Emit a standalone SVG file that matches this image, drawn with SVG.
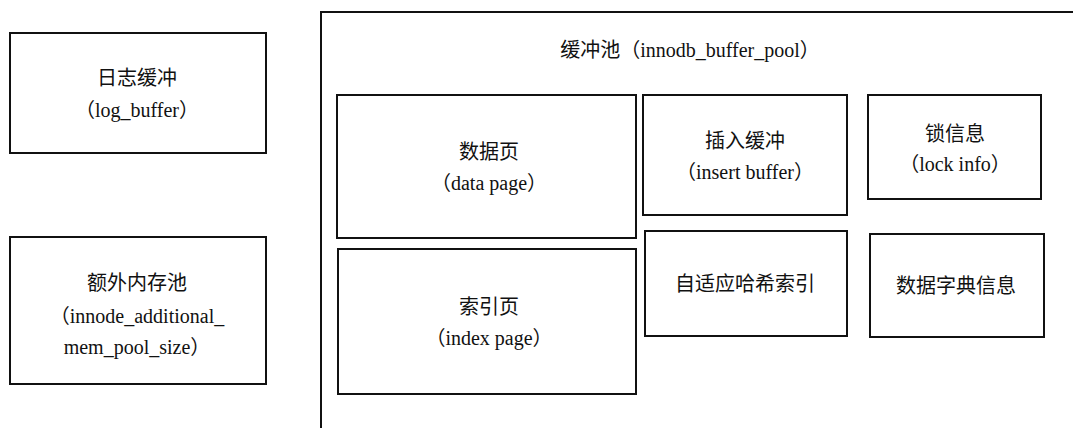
<svg xmlns="http://www.w3.org/2000/svg" width="1073" height="428" viewBox="0 0 1073 428">
<style>
.box{fill:#fff;stroke:#111;stroke-width:2}
.t{font-family:"Liberation Serif","Noto Sans CJK SC",serif;font-size:20px;fill:#111;text-anchor:middle}
</style>
<rect x="0" y="0" width="1073" height="428" fill="#fff"/>
<g id="buffer_pool">
<path d="M321,428 V12 H1073" fill="none" stroke="#111" stroke-width="2"/>
<text class="t" x="690" y="57">缓冲池（innodb_buffer_pool）</text>
</g>
<g id="log_buffer">
<rect class="box" x="10" y="33" width="256" height="120"/>
<text class="t" x="137" y="85">日志缓冲</text>
<text class="t" x="137" y="117">（log_buffer）</text>
</g>
<g id="additional_mem_pool">
<rect class="box" x="10" y="237" width="256" height="147"/>
<text class="t" x="137" y="290">额外内存池</text>
<text class="t" x="137" y="323">（innode_additional_</text>
<text class="t" x="137" y="354">mem_pool_size）</text>
</g>
<g id="data_page">
<rect class="box" x="337" y="95" width="299" height="143"/>
<text class="t" x="489" y="159">数据页</text>
<text class="t" x="489" y="190">（data page）</text>
</g>
<g id="index_page">
<rect class="box" x="338" y="249" width="298" height="145"/>
<text class="t" x="489" y="314">索引页</text>
<text class="t" x="489" y="345">（index page）</text>
</g>
<g id="insert_buffer">
<rect class="box" x="643" y="95" width="204" height="120"/>
<text class="t" x="745" y="148">插入缓冲</text>
<text class="t" x="745" y="179">（insert buffer）</text>
</g>
<g id="lock_info">
<rect class="box" x="868" y="95" width="173" height="104"/>
<text class="t" x="955" y="141">锁信息</text>
<text class="t" x="955" y="171">（lock info）</text>
</g>
<g id="adaptive_hash_index">
<rect class="box" x="645" y="231" width="202" height="105"/>
<text class="t" x="745" y="291">自适应哈希索引</text>
</g>
<g id="data_dictionary">
<rect class="box" x="870" y="234" width="174" height="103"/>
<text class="t" x="956" y="293">数据字典信息</text>
</g>
<g id="connectors"></g>
</svg>
